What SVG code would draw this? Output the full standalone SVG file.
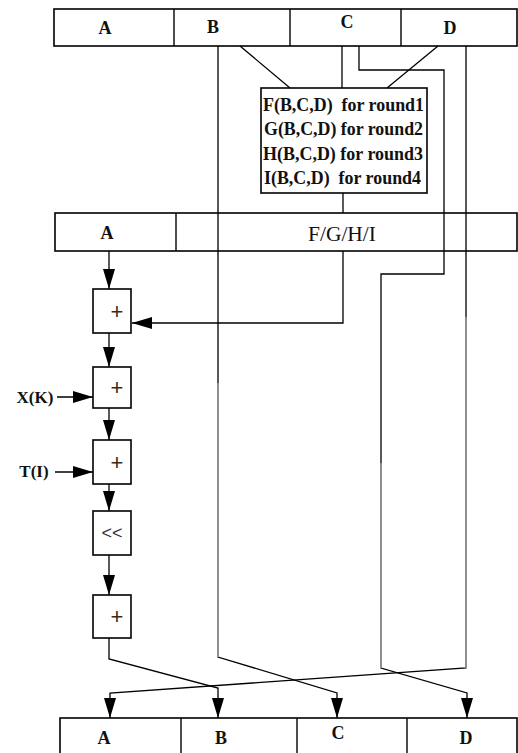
<svg xmlns="http://www.w3.org/2000/svg" width="518" height="753" viewBox="0 0 518 753">
<style>
.box{fill:#fff;stroke:#000;stroke-width:1.6}
.div{stroke:#000;stroke-width:1.4}
.lbl{font-family:"Liberation Serif",serif;font-weight:bold;font-size:18px;fill:#111;text-anchor:middle}
.fn{font-family:"Liberation Serif",serif;font-weight:bold;font-size:18px;fill:#111}
.op{font-family:"Liberation Sans",sans-serif;font-size:22px;fill:#3a2a1a;text-anchor:middle}
.w{fill:none;stroke:#000;stroke-width:1.3}
.g{fill:none;stroke:#9c9c9c;stroke-width:1.6}
</style>
<defs>
<marker id="ah" viewBox="0 0 20 12" refX="20" refY="6" markerWidth="20" markerHeight="12" markerUnits="userSpaceOnUse" orient="auto">
<path d="M0,0 L20,6 L0,12 z" fill="#000"/>
</marker>
</defs>
<g id="top-bar">
<rect class="box" x="54" y="9" width="463" height="37"/>
<line class="div" x1="174" y1="9" x2="174" y2="46"/>
<line class="div" x1="290" y1="9" x2="290" y2="46"/>
<line class="div" x1="401" y1="9" x2="401" y2="46"/>
<text class="lbl" x="105" y="34">A</text>
<text class="lbl" x="213" y="33">B</text>
<text class="lbl" x="347" y="28">C</text>
<text class="lbl" x="450" y="34">D</text>
</g>
<g id="func-box">
<rect class="box" x="261" y="88" width="166" height="105"/>
<text class="fn" xml:space="preserve" x="263" y="111" textLength="161" lengthAdjust="spacingAndGlyphs">F(B,C,D)  for round1</text>
<text class="fn" xml:space="preserve" x="264" y="135" textLength="159" lengthAdjust="spacingAndGlyphs">G(B,C,D) for round2</text>
<text class="fn" xml:space="preserve" x="263" y="160" textLength="160" lengthAdjust="spacingAndGlyphs">H(B,C,D) for round3</text>
<text class="fn" xml:space="preserve" x="264" y="184" textLength="157" lengthAdjust="spacingAndGlyphs">I(B,C,D)  for round4</text>
</g>
<g id="mid-bar">
<rect class="box" x="55" y="213" width="462" height="38"/>
<line class="div" x1="176" y1="213" x2="176" y2="251"/>
<text class="lbl" x="107" y="239">A</text>
<text x="342" y="241" font-family="Liberation Serif, serif" font-size="22" fill="#111" text-anchor="middle" textLength="68" lengthAdjust="spacingAndGlyphs">F/G/H/I</text>
</g>
<g id="add1"><rect class="box" x="93" y="289" width="38" height="44"/><text class="op" x="117" y="319">+</text></g>
<g id="add2"><rect class="box" x="93" y="367" width="38" height="41"/><text class="op" x="117" y="395">+</text></g>
<g id="add3"><rect class="box" x="93" y="440" width="38" height="44"/><text class="op" x="117" y="470">+</text></g>
<g id="rot"><rect class="box" x="93" y="511" width="38" height="44"/><text class="op" x="112" y="539" style="font-size:18px;fill:#334">&lt;&lt;</text></g>
<g id="add4"><rect class="box" x="93" y="595" width="38" height="43"/><text class="op" x="117" y="624">+</text></g>
<g id="xk"><text class="lbl" x="35" y="403" style="font-size:17px">X(K)</text></g>
<g id="ti"><text class="lbl" x="34" y="477" style="font-size:17px">T(I)</text></g>
<g id="bottom-bar">
<rect class="box" x="60" y="718" width="457" height="40"/>
<line class="div" x1="181" y1="718" x2="181" y2="753"/>
<line class="div" x1="297" y1="718" x2="297" y2="753"/>
<line class="div" x1="407" y1="718" x2="407" y2="753"/>
<text class="lbl" x="104" y="744">A</text>
<text class="lbl" x="221" y="744">B</text>
<text class="lbl" x="338" y="739">C</text>
<text class="lbl" x="466" y="744">D</text>
</g>
<g id="connectors">
<path class="w" d="M240,46 L290,88"/>
<path class="w" d="M342,46 L342,88"/>
<path class="w" d="M438,46 L387,88"/>
<path class="w" d="M343,193 L343,213"/>
<path class="w" d="M343,251 L343,323 L132,323" marker-end="url(#ah)"/>
<path class="w" d="M109,251 L109,289" marker-end="url(#ah)"/>
<path class="w" d="M109,333 L109,367" marker-end="url(#ah)"/>
<path class="w" d="M57,397 L93,397" marker-end="url(#ah)"/>
<path class="w" d="M109,408 L109,440" marker-end="url(#ah)"/>
<path class="w" d="M55,472 L93,472" marker-end="url(#ah)"/>
<path class="w" d="M109,484 L109,511" marker-end="url(#ah)"/>
<path class="w" d="M109,555 L109,595" marker-end="url(#ah)"/>
<path class="w" d="M109,638 L109,659 L218,688 L218,718" marker-end="url(#ah)"/>
<path class="w" d="M218,46 L218,657 L337,693 L337,718" marker-end="url(#ah)"/>
<path class="w" d="M359,46 L359,70 L444,70 L444,274 L381,274 L381,668 L467,693 L467,718" marker-end="url(#ah)"/>
<path class="w" d="M466,46 L466,668 L110,693 L110,718" marker-end="url(#ah)"/>
<path class="g" d="M218,383 L218,657"/>
<path class="g" d="M381,463 L381,668"/>
<path class="g" d="M466,317 L466,668"/>
</g>
</svg>
